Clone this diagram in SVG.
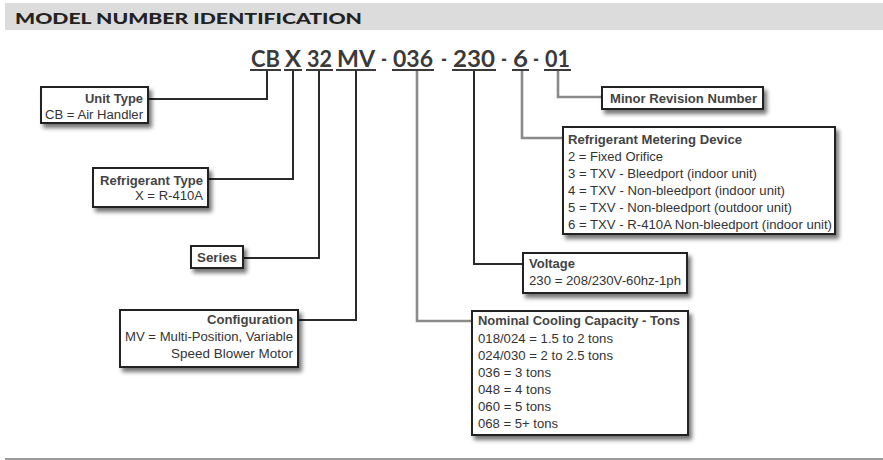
<svg xmlns="http://www.w3.org/2000/svg" width="883" height="460" viewBox="0 0 883 460">
<defs>
<filter id="sh" x="-10%" y="-20%" width="130%" height="160%">
<feDropShadow dx="3" dy="4" stdDeviation="2.2" flood-color="#000" flood-opacity="0.55"/>
</filter>
<style>
.box{fill:#fff;stroke:#222;stroke-width:2;filter:url(#sh)}
.t{font-family:"Liberation Sans",Arial,sans-serif;font-size:12.5px;fill:#333}
.b{font-weight:bold;fill:#444}
.r{text-anchor:end}
.code{font-family:Lato,"Open Sans",sans-serif;font-weight:bold;font-size:22px;fill:#3a3a3a}
.ul{stroke:#3a3a3a;stroke-width:2}
.c{fill:none;stroke:#2a2a2a;stroke-width:2}
.g{fill:none;stroke:#8a8a8a;stroke-width:2.6}
</style>
</defs>
<rect x="5" y="3" width="878" height="27" fill="#dcdcdc"/>
<text x="15" y="24" font-family="Lato,'Open Sans',sans-serif" font-weight="900" font-size="15.5" fill="#222" textLength="347" lengthAdjust="spacingAndGlyphs">MODEL NUMBER IDENTIFICATION</text>
<line x1="5" y1="459" x2="883" y2="459" stroke="#9a9a9a" stroke-width="2"/>

<g id="model-code">
<text class="code" x="251" y="67" textLength="29" lengthAdjust="spacingAndGlyphs">CB</text>
<text class="code" x="285" y="67" textLength="16" lengthAdjust="spacingAndGlyphs">X</text>
<text class="code" x="307" y="67" textLength="25" lengthAdjust="spacingAndGlyphs">32</text>
<text class="code" x="337" y="67" textLength="38" lengthAdjust="spacingAndGlyphs">MV</text>
<text class="code" x="381" y="67" textLength="6" lengthAdjust="spacingAndGlyphs">-</text>
<text class="code" x="393" y="67" textLength="40" lengthAdjust="spacingAndGlyphs">036</text>
<text class="code" x="441" y="67" textLength="6" lengthAdjust="spacingAndGlyphs">-</text>
<text class="code" x="453" y="67" textLength="42" lengthAdjust="spacingAndGlyphs">230</text>
<text class="code" x="501" y="67" textLength="6" lengthAdjust="spacingAndGlyphs">-</text>
<text class="code" x="513" y="67" textLength="15" lengthAdjust="spacingAndGlyphs">6</text>
<text class="code" x="533" y="67" textLength="6" lengthAdjust="spacingAndGlyphs">-</text>
<text class="code" x="545" y="67" textLength="25" lengthAdjust="spacingAndGlyphs">01</text>
<line class="ul" x1="250" y1="70" x2="281" y2="70"/>
<line class="ul" x1="284" y1="70" x2="302" y2="70"/>
<line class="ul" x1="306" y1="70" x2="333" y2="70"/>
<line class="ul" x1="336" y1="70" x2="376" y2="70"/>
<line class="ul" x1="392" y1="70" x2="434" y2="70"/>
<line class="ul" x1="452" y1="70" x2="496" y2="70"/>
<line class="ul" x1="512" y1="70" x2="529" y2="70"/>
<line class="ul" x1="544" y1="70" x2="571" y2="70"/>
</g>

<g id="connectors">
<polyline class="c" points="267,71 267,99 148,99"/>
<polyline class="c" points="293,71 293,179 208,179"/>
<polyline class="c" points="319,71 319,258 243,258"/>
<polyline class="c" points="356,71 356,320 298,320"/>
<polyline class="g" points="417,71 417,321 472,321"/>
<polyline class="c" points="474,71 474,264 523,264"/>
<polyline class="g" points="522,71 522,138 563,138"/>
<polyline class="g" points="558,71 558,97 602,97"/>
</g>

<g id="unit-type">
<rect class="box" x="41" y="87" width="107" height="36"/>
<text class="t b r" x="143" y="103" textLength="58" lengthAdjust="spacingAndGlyphs">Unit Type</text>
<text class="t r" x="143" y="119" textLength="98" lengthAdjust="spacingAndGlyphs">CB = Air Handler</text>
</g>

<g id="refrigerant-type">
<rect class="box" x="93" y="168" width="115" height="39"/>
<text class="t b r" x="203" y="185" textLength="103" lengthAdjust="spacingAndGlyphs">Refrigerant Type</text>
<text class="t r" x="203" y="200" textLength="68" lengthAdjust="spacingAndGlyphs">X = R-410A</text>
</g>

<g id="series">
<rect class="box" x="191" y="246" width="52" height="22"/>
<text class="t b r" x="237" y="262" textLength="40" lengthAdjust="spacingAndGlyphs">Series</text>
</g>

<g id="configuration">
<rect class="box" x="120" y="310" width="178" height="57"/>
<text class="t b r" x="293" y="324" textLength="86" lengthAdjust="spacingAndGlyphs">Configuration</text>
<text class="t r" x="293" y="341" textLength="168" lengthAdjust="spacingAndGlyphs">MV = Multi-Position, Variable</text>
<text class="t r" x="293" y="358" textLength="122" lengthAdjust="spacingAndGlyphs">Speed Blower Motor</text>
</g>

<g id="minor-revision">
<rect class="box" x="602" y="87" width="161" height="22"/>
<text class="t b" x="610" y="103" textLength="147" lengthAdjust="spacingAndGlyphs">Minor Revision Number</text>
</g>

<g id="metering-device">
<rect class="box" x="563" y="127" width="272" height="107"/>
<text class="t b" x="568" y="144" textLength="174" lengthAdjust="spacingAndGlyphs">Refrigerant Metering Device</text>
<text class="t" x="568" y="161" textLength="95" lengthAdjust="spacingAndGlyphs">2 = Fixed Orifice</text>
<text class="t" x="568" y="178" textLength="189" lengthAdjust="spacingAndGlyphs">3 = TXV - Bleedport (indoor unit)</text>
<text class="t" x="568" y="195" textLength="217" lengthAdjust="spacingAndGlyphs">4 = TXV - Non-bleedport (indoor unit)</text>
<text class="t" x="568" y="212" textLength="224" lengthAdjust="spacingAndGlyphs">5 = TXV - Non-bleedport (outdoor unit)</text>
<text class="t" x="568" y="229" textLength="264" lengthAdjust="spacingAndGlyphs">6 = TXV - R-410A Non-bleedport (indoor unit)</text>
</g>

<g id="voltage">
<rect class="box" x="523" y="253" width="164" height="40"/>
<text class="t b" x="529" y="268" textLength="46" lengthAdjust="spacingAndGlyphs">Voltage</text>
<text class="t" x="529" y="285" textLength="152" lengthAdjust="spacingAndGlyphs">230 = 208/230V-60hz-1ph</text>
</g>

<g id="cooling-capacity">
<rect class="box" x="472" y="311" width="216" height="124"/>
<text class="t b" x="478" y="325" textLength="202" lengthAdjust="spacingAndGlyphs">Nominal Cooling Capacity - Tons</text>
<text class="t" x="478" y="343" textLength="135" lengthAdjust="spacingAndGlyphs">018/024 = 1.5 to 2 tons</text>
<text class="t" x="478" y="360" textLength="135" lengthAdjust="spacingAndGlyphs">024/030 = 2 to 2.5 tons</text>
<text class="t" x="478" y="377" textLength="73" lengthAdjust="spacingAndGlyphs">036 = 3 tons</text>
<text class="t" x="478" y="394" textLength="73" lengthAdjust="spacingAndGlyphs">048 = 4 tons</text>
<text class="t" x="478" y="411" textLength="73" lengthAdjust="spacingAndGlyphs">060 = 5 tons</text>
<text class="t" x="478" y="428" textLength="80" lengthAdjust="spacingAndGlyphs">068 = 5+ tons</text>
</g>
</svg>
